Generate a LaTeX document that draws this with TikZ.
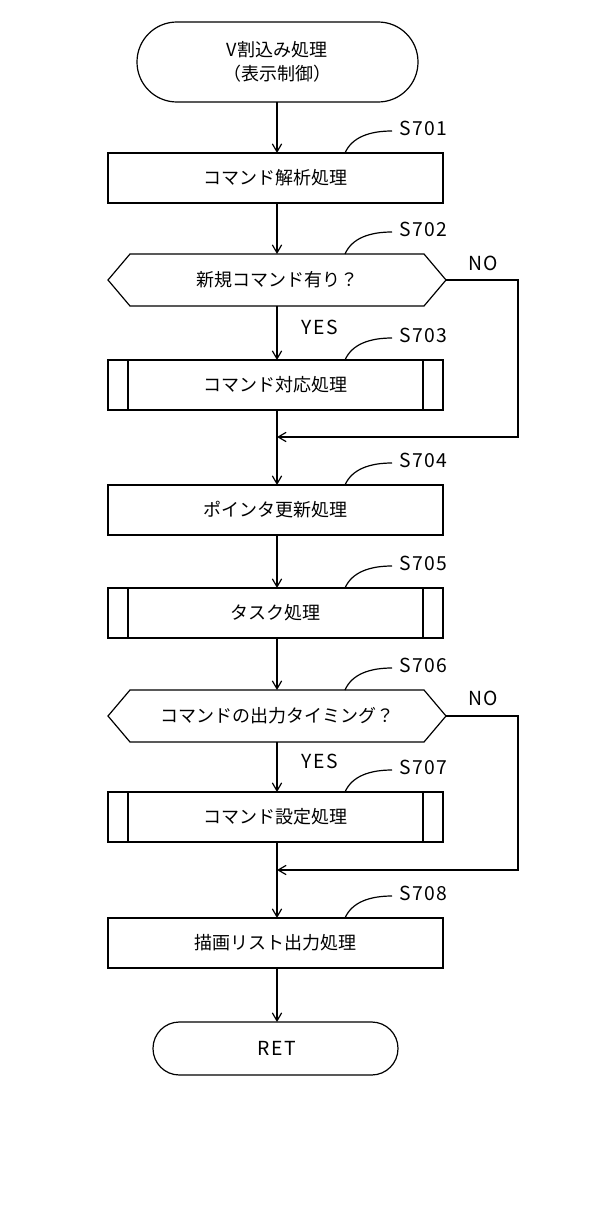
\documentclass[tikz,border=0pt]{standalone}
\usepackage{fontspec}
\setmainfont{Noto Sans CJK JP}
\usetikzlibrary{arrows.meta}
\begin{document}
\begin{tikzpicture}[x=0.75pt,y=-0.75pt,line width=0.9pt,
  every node/.style={font=\fontsize{13.5}{18}\selectfont},
  arr/.style={-{Straight Barb[length=6pt,width=7pt]}},
  lbl/.style={font=\fontsize{14.5}{16}\selectfont\addfontfeatures{LetterSpace=8}}]
\useasboundingbox (0,0) rectangle (614,1205);
\def\bx#1#2#3{\draw (108,#2) rectangle (443,#2+50); \node (#1) at (275.5,#2+25) {#3};}
\def\pbx#1#2#3{\bx{#1}{#2}{#3}\draw (128,#2)--(128,#2+50) (423,#2)--(423,#2+50);}
\def\lb#1#2#3{\draw (345,#2) .. controls (352,#2-16) and (370,#2-22) .. (392,#2-22); \node[lbl,anchor=west] at (394,#2-25) {#3};}
% start
\draw[rounded corners=29.9pt] (137,22) rectangle (418,102);
\node[align=center] (st) at (277,62) {V割込み処理\\（表示制御）};
\bx{s1}{153}{コマンド解析処理}\lb{l1}{153}{S701}
\draw (130,254)--(424,254)--(446,280)--(424,306)--(130,306)--(108,280)--cycle;
\node (d2) at (277,280) {新規コマンド有り？};
\lb{l2}{254}{S702}
\pbx{s3}{360}{コマンド対応処理}\lb{l3}{360}{S703}
\bx{s4}{485}{ポインタ更新処理}\lb{l4}{485}{S704}
\pbx{s5}{588}{タスク処理}\lb{l5}{588}{S705}
\draw (130,690)--(424,690)--(446,716)--(424,742)--(130,742)--(108,716)--cycle;
\node (d6) at (277,716) {コマンドの出力タイミング？};
\lb{l6}{690}{S706}
\pbx{s7}{792}{コマンド設定処理}\lb{l7}{792}{S707}
\bx{s8}{918}{描画リスト出力処理}\lb{l8}{918}{S708}
\draw[rounded corners=19.8pt] (153,1022) rectangle (398,1075);
\node[lbl] (ret) at (277,1048) {RET};
% connectors
\draw[arr] (277,102)--(277,153);
\draw[arr] (277,203)--(277,254);
\draw[arr] (277,306)--(277,360);
\draw[arr] (277,410)--(277,485);
\draw[arr] (277,535)--(277,588);
\draw[arr] (277,638)--(277,690);
\draw[arr] (277,742)--(277,792);
\draw[arr] (277,842)--(277,918);
\draw[arr] (277,968)--(277,1022);
\draw[arr] (446,280)--(518,280)--(518,437)--(277,437);
\draw[arr] (446,716)--(518,716)--(518,870)--(277,870);
\node[lbl] at (483,263) {NO};
\node[lbl] at (483,698) {NO};
\node[lbl] at (320,327) {YES};
\node[lbl] at (320,761) {YES};
\end{tikzpicture}
\end{document}
